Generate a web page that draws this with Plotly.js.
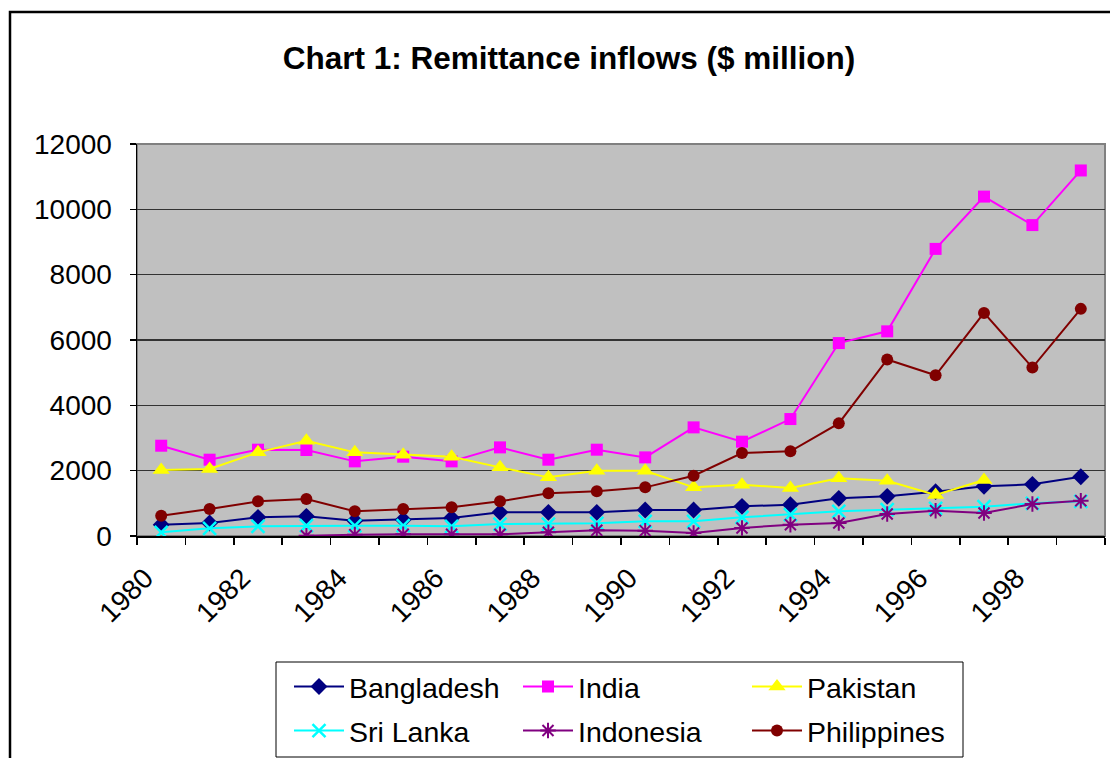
<!DOCTYPE html>
<html><head><meta charset="utf-8">
<script src="https://cdn.plot.ly/plotly-3.0.1.min.js"></script>
<style>html,body{margin:0;padding:0;background:#fff;}#chart{width:1110px;height:758px;}</style>
</head><body><div id="chart"></div>
<script>
const years = [1980,1981,1982,1983,1984,1985,1986,1987,1988,1989,1990,1991,1992,1993,1994,1995,1996,1997,1998,1999];
const bangladesh = [347,398,571,602,469,500,551,724,724,724,796,796,908,959,1153,1214,1357,1520,1581,1816];
const india = [2764,2336,2642,2632,2285,2428,2285,2713,2336,2642,2407,3325,2887,3580,5906,6265,8789,10390,9518,11190];
const pakistan = [2020,2050,2560,2917,2560,2489,2428,2101,1795,1999,1999,1489,1571,1469,1765,1693,1255,1714,null,null];
const sriLanka = [112,235,296,316,316,316,296,367,367,388,449,449,571,653,755,806,847,898,1000,1061];
const indonesia = [null,null,null,5,41,51,51,51,112,173,163,92,245,347,398,673,775,704,979,1081];
const philippines = [622,826,1061,1132,755,826,877,1061,1306,1367,1489,1846,2540,2591,3448,5403,4921,6830,5157,6953];

const FONT = 'Liberation Sans, Arial, sans-serif';
function tr(name, y, color, symbol, size, legend, mlw) {
  return {
    x: years, y: y, name: name, type: 'scatter', mode: 'lines+markers',
    line: {color: color, width: 2},
    marker: {color: color, symbol: symbol, size: size, line: {color: color, width: mlw || 0}},
    legend: legend, connectgaps: false
  };
}
const data = [
  tr('Bangladesh', bangladesh, '#000080', 'diamond', 13, 'legend'),
  tr('India', india, '#FF00FF', 'square', 12, 'legend'),
  tr('Pakistan', pakistan, '#FFFF00', 'triangle-up', 15, 'legend'),
  tr('Sri Lanka', sriLanka, '#00FFFF', 'x-thin-open', 13, 'legend2', 2.5),
  tr('Indonesia', indonesia, '#800080', 'asterisk-open', 13, 'legend2', 2),
  tr('Philippines', philippines, '#800000', 'circle', 12, 'legend2')
];
const L = 137, R = 1105, T = 144, B = 536;
const px = v => (v - L) / (R - L);
const py = v => (B - v) / (B - T);
const legBase = {orientation: 'h', xanchor: 'left', yanchor: 'middle', xref: 'paper', yref: 'paper',
  font: {family: FONT, size: 28.5, color: '#000'}, bgcolor: 'rgba(0,0,0,0)', borderwidth: 0,
  itemwidth: 50, entrywidth: 164, entrywidthmode: 'pixels', tracegroupgap: 0, itemclick: false};
const layout = {
  width: 1110, height: 758,
  margin: {l: L, r: 1110 - R, t: T, b: 758 - B, pad: 0, autoexpand: false},
  paper_bgcolor: '#fff', plot_bgcolor: '#C0C0C0',
  font: {family: FONT, color: '#000'},
  title: {text: 'Chart 1: Remittance inflows ($ million)', font: {family: FONT, size: 31.5, color: '#000', weight: 'bold'},
    xref: 'container', yref: 'container', x: 569/1110, xanchor: 'center', y: 1 - 58/758, yanchor: 'middle'},
  showlegend: true,
  legend: Object.assign({}, legBase, {x: px(289), y: py(687)}),
  legend2: Object.assign({}, legBase, {x: px(289), y: py(731)}),
  xaxis: {type: 'linear', range: [1979.5, 1999.5], tick0: 1980, dtick: 2, ticks: '', tickformat: 'd', automargin: false,
    tickangle: -45, tickfont: {family: FONT, size: 28, color: '#000'},
    showgrid: false, zeroline: false, showline: true, linecolor: '#000', linewidth: 1.5,
    ticklabelstandoff: 13, ticklabelshift: -16,
    minor: {dtick: 1, tick0: 1979.5, ticks: 'outside', ticklen: 7, tickcolor: '#000', tickwidth: 1.5, showgrid: false}},
  yaxis: {range: [0, 12000], tick0: 0, dtick: 2000, ticks: 'outside', ticklen: 6, tickcolor: '#000', tickwidth: 1.5, automargin: false,
    tickformat: 'd', tickfont: {family: FONT, size: 28, color: '#000'}, ticklabelstandoff: 12,
    showgrid: true, gridcolor: '#333', gridwidth: 1.2, zeroline: false,
    showline: true, linecolor: '#000', linewidth: 1.5},
  shapes: [
    {type: 'rect', xref: 'paper', yref: 'paper', x0: 0, x1: 1, y0: 0, y1: 1, line: {color: '#808080', width: 2}, layer: 'below'},
    {type: 'rect', xref: 'paper', yref: 'paper', x0: px(276), x1: px(963), y0: py(662), y1: py(757), line: {color: '#000', width: 1}, fillcolor: 'rgba(0,0,0,0)'},
    {type: 'rect', xref: 'paper', yref: 'paper', x0: px(10), x1: px(1130), y0: py(12), y1: py(780), line: {color: '#000', width: 2.5}, fillcolor: 'rgba(0,0,0,0)'}
  ]
};
Plotly.newPlot('chart', data, layout, {displayModeBar: false, staticPlot: true});
</script></body></html>
